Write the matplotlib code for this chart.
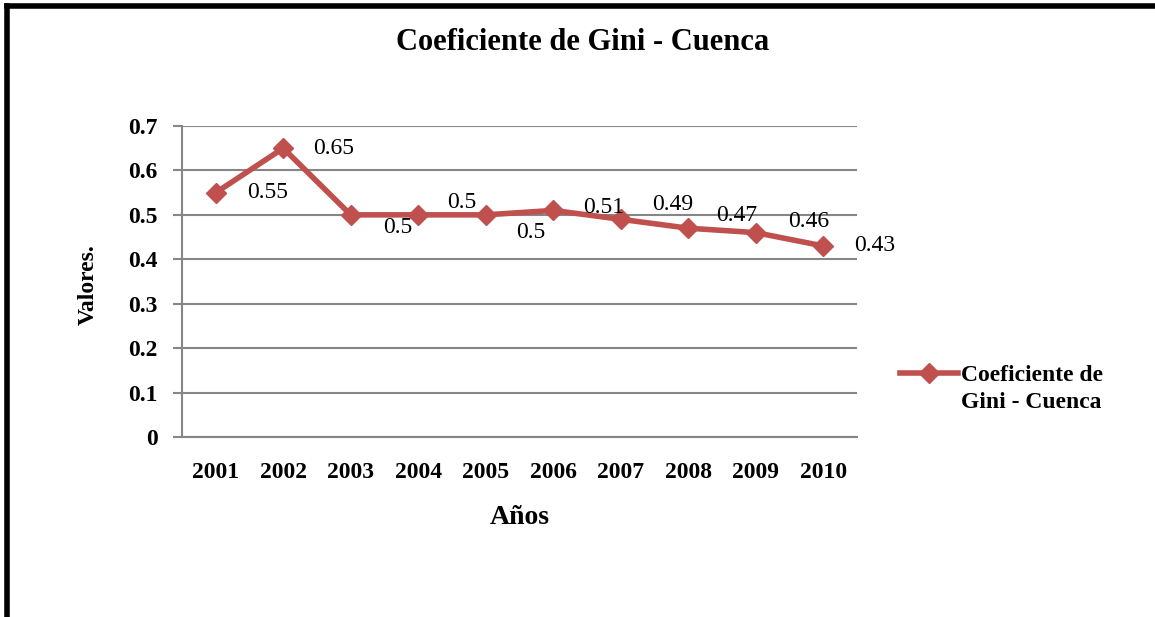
import matplotlib
matplotlib.use("Agg")
from matplotlib import pyplot as plt
from matplotlib.lines import Line2D

years = ["2001", "2002", "2003", "2004", "2005", "2006", "2007", "2008", "2009", "2010"]
gini = [0.55, 0.65, 0.50, 0.50, 0.50, 0.51, 0.49, 0.47, 0.46, 0.43]
labels = ["0.55", "0.65", "0.5", "0.5", "0.5", "0.51", "0.49", "0.47", "0.46", "0.43"]
# label offsets (px) from each point, as placed in the original
offs = [(52, 0), (50, 0), (47, -13), (43, 12), (45, -18), (50, 3), (52, 15), (48, 13), (53, 11), (51, 0)]

W, H = 1155, 617
red = "#C0504D"
grey = "#868686"
plt.rcParams['font.family'] = ['Liberation Serif', 'DejaVu Serif']

fig = plt.figure(figsize=(W / 100, H / 100), dpi=100)
ax = fig.add_axes([182 / W, 1 - 437 / H, 675 / W, (437 - 126) / H])

x = list(range(len(years)))
ax.plot(x, gini, color=red, lw=4, marker="D", ms=10, zorder=3)
for i, v in enumerate(gini):
    ax.annotate(labels[i], (i, v), xytext=offs[i], textcoords="offset pixels",
                ha="center", va="center", fontsize=17, color="black", zorder=4)

ax.set_xlim(-0.5, len(years) - 0.5)
ax.set_ylim(0, 0.7)
ax.set_yticks([0, 0.1, 0.2, 0.3, 0.4, 0.5, 0.6, 0.7])
ax.set_yticklabels(["0", "0.1", "0.2", "0.3", "0.4", "0.5", "0.6", "0.7"], fontsize=17, fontweight="bold")
ax.set_xticks(x)
ax.set_xticklabels(years, fontsize=17, fontweight="bold")
ax.tick_params(axis="x", length=0, pad=18)
ax.tick_params(axis="y", length=6.5, width=1.5, color=grey, pad=11)
ax.grid(axis="y", color=grey, lw=1.5)
ax.set_axisbelow(True)
for s in ["top", "right"]:
    ax.spines[s].set_visible(False)
for s in ["left", "bottom"]:
    ax.spines[s].set_color(grey)
    ax.spines[s].set_linewidth(1.5)

fig.text(583 / W, 1 - 42 / H, "Coeficiente de Gini - Cuenca", ha="center", va="center",
         fontsize=22, fontweight="bold")
fig.text(88 / W, 1 - 285 / H, "Valores.", ha="center", va="center", rotation=90,
         fontsize=17, fontweight="bold")
fig.text(520 / W, 1 - 518 / H, "Años", ha="center", va="center",
         fontsize=20, fontweight="bold")

# legend
fig.add_artist(Line2D([900 / W, 958 / W], [1 - 373 / H, 1 - 373 / H], color=red, lw=4,
                      transform=fig.transFigure))
fig.add_artist(Line2D([929 / W], [1 - 373 / H], color=red, marker="D", ms=10,
                      transform=fig.transFigure))
fig.text(961 / W, 1 - 389 / H, "Coeficiente de\nGini - Cuenca", ha="left", va="center",
         fontsize=17, fontweight="bold", linespacing=1.4)

# outer frame
fig.add_artist(Line2D([7 / W, 1], [1 - 6 / H, 1 - 6 / H], color="black", lw=4,
                      transform=fig.transFigure))
fig.add_artist(Line2D([7 / W, 7 / W], [0, 1 - 6 / H], color="black", lw=4,
                      transform=fig.transFigure))

fig.savefig("out.png", dpi=100)
